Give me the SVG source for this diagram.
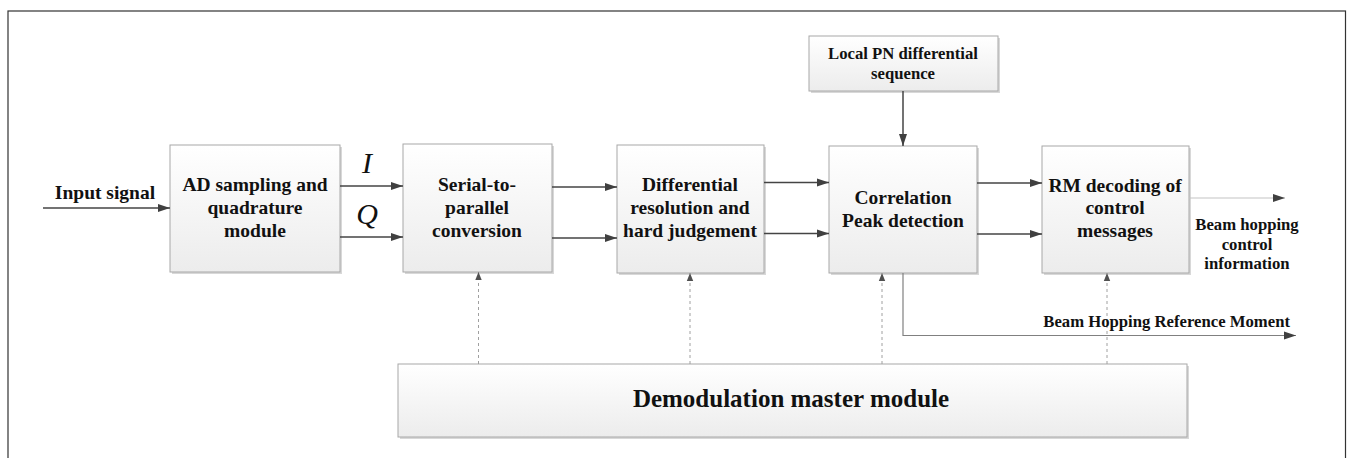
<svg xmlns="http://www.w3.org/2000/svg" width="1348" height="458" viewBox="0 0 1348 458">
<defs>
<linearGradient id="g" x1="0" y1="0" x2="0" y2="1">
<stop offset="0" stop-color="#ffffff"/>
<stop offset="1" stop-color="#ececec"/>
</linearGradient>
<marker id="a" viewBox="0 0 12 10" refX="12" refY="5" markerWidth="12" markerHeight="10" markerUnits="userSpaceOnUse" orient="auto">
<path d="M0,1 L12,5 L0,9 z" fill="#404040"/>
</marker>
<marker id="al" viewBox="0 0 10 10" refX="10" refY="5" markerWidth="8" markerHeight="8" markerUnits="userSpaceOnUse" orient="auto">
<path d="M0,1 L10,5 L0,9 z" fill="#505050"/>
</marker>
</defs>
<style>
.box{fill:url(#g);stroke:#a8a8a8;stroke-width:1}
.sh{fill:#d8d8d8}
.t{font-family:"Liberation Serif","Times New Roman",serif;font-weight:bold;fill:#111;text-anchor:middle}
.c{stroke:#444444;stroke-width:1.5;fill:none;marker-end:url(#a)}
.d{stroke:#a0a0a0;stroke-width:1;stroke-dasharray:3,3;fill:none;marker-end:url(#al)}
.l{font-family:"Liberation Serif","Times New Roman",serif;font-style:italic;font-size:30px;fill:#111;text-anchor:middle}
</style>
<rect x="8" y="11" width="1337.5" height="460" fill="#fff" stroke="#333" stroke-width="1.2"/>

<g id="ad">
<rect class="sh" x="172" y="147" width="170" height="127"/>
<rect class="box" x="170" y="145" width="170" height="127"/>
<text class="t" font-size="19.5"><tspan x="255" y="191">AD sampling and</tspan><tspan x="255" y="214">quadrature</tspan><tspan x="255" y="237">module</tspan></text>
</g>
<g id="sp">
<rect class="sh" x="405" y="146" width="149" height="128"/>
<rect class="box" x="403" y="144" width="149" height="128"/>
<text class="t" font-size="19.5"><tspan x="477" y="191">Serial-to-</tspan><tspan x="477" y="214">parallel</tspan><tspan x="477" y="237">conversion</tspan></text>
</g>
<g id="diff">
<rect class="sh" x="619" y="147" width="147" height="128"/>
<rect class="box" x="617" y="145" width="147" height="128"/>
<text class="t" font-size="19.5"><tspan x="690" y="191">Differential</tspan><tspan x="690" y="214">resolution and</tspan><tspan x="690" y="237">hard judgement</tspan></text>
</g>
<g id="corr">
<rect class="sh" x="831" y="148" width="148" height="127"/>
<rect class="box" x="829" y="146" width="148" height="127"/>
<text class="t" font-size="19.5"><tspan x="903" y="204">Correlation</tspan><tspan x="903" y="227">Peak detection</tspan></text>
</g>
<g id="rm">
<rect class="sh" x="1044" y="148" width="147" height="127"/>
<rect class="box" x="1042" y="146" width="147" height="127"/>
<text class="t" font-size="19.5"><tspan x="1115" y="192">RM decoding of</tspan><tspan x="1115" y="214">control</tspan><tspan x="1115" y="237">messages</tspan></text>
</g>
<g id="pn">
<rect class="sh" x="811" y="38" width="189" height="55"/>
<rect class="box" x="809" y="36" width="189" height="55"/>
<text class="t" font-size="16.7"><tspan x="903" y="59">Local PN differential</tspan><tspan x="903" y="79">sequence</tspan></text>
</g>
<g id="demod">
<rect class="sh" x="400" y="366" width="789" height="73"/>
<rect class="box" x="398" y="364" width="789" height="73"/>
<text class="t" font-size="25" x="791" y="407">Demodulation master module</text>
</g>

<g id="connectors">
<path class="c" d="M43,208 H170"/>
<path class="c" d="M340,186 H403"/>
<path class="c" d="M340,237 H403"/>
<path class="c" d="M552,187 H617"/>
<path class="c" d="M552,238 H617"/>
<path class="c" d="M764,182.5 H829"/>
<path class="c" d="M764,233.5 H829"/>
<path class="c" d="M977,183 H1042"/>
<path class="c" d="M977,234 H1042"/>
<path d="M1189,198 H1285" stroke="#c4c4c4" stroke-width="1.2" fill="none" marker-end="url(#a)"/>
<path class="c" d="M903,91 V146"/>
<path d="M903,273 V335.5 H1296" stroke="#808080" stroke-width="1.2" fill="none" marker-end="url(#a)"/>
<path class="d" d="M478.5,364 V272"/>
<path class="d" d="M690,364 V273"/>
<path class="d" d="M882,364 V273"/>
<path class="d" d="M1107,364 V273"/>
</g>

<text class="t" font-size="19.5" x="105" y="199">Input signal</text>
<text class="l" x="367" y="173">I</text>
<text class="l" x="367" y="224">Q</text>
<text class="t" font-size="16.7"><tspan x="1247" y="230">Beam hopping</tspan><tspan x="1247" y="250">control</tspan><tspan x="1247" y="269">information</tspan></text>
<text class="t" font-size="16.7" x="1290" y="327" style="text-anchor:end">Beam Hopping Reference Moment</text>
</svg>
